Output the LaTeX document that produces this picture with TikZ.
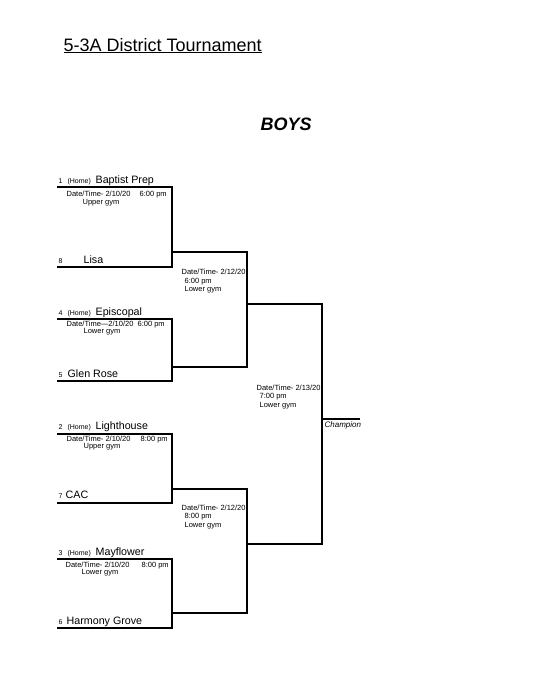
\documentclass[tikz,border=0pt]{standalone}
\usepackage{fontspec}
\setmainfont{Liberation Sans}
\usetikzlibrary{positioning}
\newcommand{\fsz}[1]{\fontsize{#1}{#1}\selectfont}
\newcommand{\home}[1]{#1\hspace{5pt}(Home)}

\begin{document}
\begin{tikzpicture}[x=1pt,y=-1pt,line width=1.3pt,
    lbl/.style={anchor=base west,inner sep=0pt},
    info/.style={lbl,font=\fsz{7.5}},
    team/.style={lbl,font=\fsz{10.7}},
    seed/.style={lbl,font=\fsz{7}}]
  \useasboundingbox (0,0) rectangle (552,680);
  % headings
  \node[lbl,font=\fsz{18}] (title) at (63,51) {\underline{5-3A District Tournament}};
  \node[lbl,font=\fsz{18}\bfseries\itshape] (boys) at (260,130) {BOYS};
  % first round: top line, bottom line, line out to round 2
  \foreach \m/\t/\b/\w in {1/187/267/252, 2/319/381/367, 3/434/503/489, 4/559/628/613}{
    \coordinate (t\m) at (57,\t); \coordinate (te\m) at (172,\t);
    \coordinate (b\m) at (57,\b); \coordinate (w\m) at (172,\w);
    \draw (t\m) -- (te\m) |- (b\m);
  }
  % second round and final
  \coordinate (s1) at (247,304); \coordinate (s2) at (247,544);
  \coordinate (f1) at (322,304); \coordinate (f2) at (322,544);
  \coordinate (ch) at (322,419); \coordinate (che) at (360,419);
  \draw (w1) -| (s1) |- (w2);
  \draw (w3) -| (s2) |- (w4);
  \draw (s1) -- (f1) -- (f2) -- (s2);
  \draw (ch) -- (che);
  % teams
  \foreach \n/\s/\sx/\tm/\tx/\y in {1/\home{1}/58/Baptist Prep/95/183, 8/8/58/Lisa/83/263,
      4/\home{4}/58/Episcopal/95/315, 5/5/58/Glen Rose/67/377,
      2/\home{2}/58/Lighthouse/95/429, 7/7/58/CAC/65/498,
      3/\home{3}/58/Mayflower/95/555, 6/6/58/Harmony Grove/66/624}{
    \node[seed] (seed\n) at (\sx,\y) {\s};
    \node[team] (team\n) at (\tx,\y) {\tm};
  }
  % game info, first round
  \foreach \m/\d/\dx/\hr/\hx/\gym/\gx/\y in {1/{Date/Time- 2/10/20}/66/6:00 pm/139/Upper gym/82/196.5,
      2/{Date/Time---2/10/20}/66/6:00 pm/137/Lower gym/83/326,
      3/{Date/Time- 2/10/20}/66/8:00 pm/140/Upper gym/83/441,
      4/{Date/Time- 2/10/20}/65/8:00 pm/141/Lower gym/81/567}{
    \node[info] (date\m) at (\dx,\y) {\d};
    \node[info] (hour\m) at (\hx,\y) {\hr};
    \node[info] (gym\m) at (\gx,\y+7.5) {\gym};
  }
  % game info, later rounds
  \foreach \m/\d/\hr/\x/\y in {5/{2/12/20}/6:00 pm/181/274.7, 6/{2/12/20}/8:00 pm/181/510,
      7/{2/13/20}/7:00 pm/256/390}{
    \node[info] (date\m) at (\x,\y) {Date/Time- \d};
    \node[info] (hour\m) at (\x+3,\y+8.5) {\hr};
    \node[info] (gym\m) at (\x+3,\y+17) {Lower gym};
  }
  \node[lbl,font=\fsz{8}\itshape] (champ) at (324,427.5) {Champion};
\end{tikzpicture}
\end{document}
